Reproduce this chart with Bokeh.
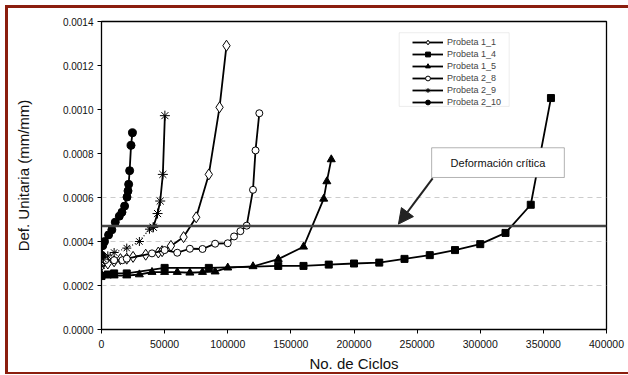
from bokeh.plotting import figure
from bokeh.models import (Span, BoxAnnotation, Label, Arrow, NormalHead, Legend,
                          LegendItem, FixedTicker, NumeralTickFormatter, Range1d)
from bokeh.embed import file_html
from bokeh.resources import INLINE

# ---------------- data ----------------
x_ticks = [0, 50000, 100000, 150000, 200000, 250000, 300000, 350000, 400000]
y_ticks = [0.0, 0.0002, 0.0004, 0.0006, 0.0008, 0.0010, 0.0012, 0.0014]
grid_levels = [0.0002, 0.0004, 0.0006]
critical_strain = 0.00047

p11_x = [0, 5000, 10000, 15000, 20000, 25000, 35000, 45000, 48000, 55000, 65000, 75000, 85000, 93500, 99000]
p11_y = [0.00029, 0.00030, 0.00031, 0.00032, 0.000322, 0.00033, 0.00034, 0.00035, 0.000356, 0.00038,
         0.00042, 0.00051, 0.000705, 0.00101, 0.00129]

p14_x = [0, 5000, 10000, 20000, 50000, 85000, 140000, 160000, 180000, 200000, 220000, 240000,
         260000, 280000, 300000, 320000, 340000, 356000]
p14_y = [0.000243, 0.00025, 0.000255, 0.000255, 0.00028, 0.00028, 0.000289, 0.000289, 0.000295,
         0.0003, 0.000304, 0.000321, 0.000338, 0.000361, 0.000388, 0.000439, 0.000567, 0.001052]

p15_x = [0, 10000, 20000, 30000, 40000, 50000, 60000, 70000, 80000, 90000, 100000, 120000,
         140000, 160000, 176000, 178500, 182000]
p15_y = [0.00025, 0.000245, 0.000245, 0.00025, 0.000261, 0.000261, 0.000261, 0.000258, 0.000261,
         0.000263, 0.000281, 0.000287, 0.00032, 0.000376, 0.000594, 0.000673, 0.000773]

p28_x = [0, 3000, 10000, 16500, 20000, 40000, 50000, 60000, 70000, 80000, 90000, 100000,
         105000, 110000, 115000, 120000, 122000, 125000]
p28_y = [0.00030, 0.000315, 0.000315, 0.000315, 0.000322, 0.000346, 0.000361, 0.000349, 0.000367,
         0.000366, 0.00039, 0.000392, 0.000423, 0.000447, 0.000472, 0.000635, 0.000814, 0.000983]

p29_low_x = [0, 1500, 5000, 10000, 20000, 30000, 38000, 41000]
p29_low_y = [0.00029, 0.00032, 0.000335, 0.00035, 0.00037, 0.0004, 0.000456, 0.000465]
p29_high_x = [41000, 44400, 46500, 48600, 50200]
p29_high_y = [0.000465, 0.000527, 0.000584, 0.000705, 0.000972]

p210_x = [0, 1000, 2400, 5600, 8200, 10900, 14100, 16200, 18300, 20200, 21000, 21500, 22300, 23400, 24500]
p210_y = [0.000338, 0.000381, 0.0004, 0.00043, 0.000453, 0.000488, 0.000515, 0.000533, 0.000561,
          0.000602, 0.00063, 0.00066, 0.000722, 0.000837, 0.000894]

labels = ["Probeta 1_1", "Probeta 1_4", "Probeta 1_5", "Probeta 2_8", "Probeta 2_9", "Probeta 2_10"]

FONT = "Liberation Sans"
MAROON = "#8B1E0E"

p = figure(width=620, height=364, output_backend="svg", toolbar_location=None,
           x_range=Range1d(0, 400000), y_range=Range1d(0, 0.0014),
           min_border_left=93, min_border_right=25, min_border_top=13, min_border_bottom=48)
p.styles = {"margin-left": "5px", "margin-top": "5px", "box-sizing": "content-box",
            "border-left": f"3px solid {MAROON}", "border-top": f"3px solid {MAROON}",
            "border-bottom": f"2px solid {MAROON}"}
p.background_fill_color = "white"
p.border_fill_color = "white"
p.outline_line_color = "black"
p.outline_line_width = 1.3

p.xaxis.ticker = FixedTicker(ticks=x_ticks)
p.yaxis.ticker = FixedTicker(ticks=y_ticks)
p.xaxis.formatter = NumeralTickFormatter(format="0")
p.yaxis.formatter = NumeralTickFormatter(format="0.0000")
for ax in (p.xaxis, p.yaxis):
    ax.minor_tick_line_color = None
    ax.major_tick_out = 4
    ax.major_tick_in = 0
    ax.axis_line_color = "black"
    ax.major_tick_line_color = "black"
    ax.major_label_text_font = FONT
    ax.major_label_text_color = "#111111"
    ax.axis_label_text_font = FONT
    ax.axis_label_text_font_style = "normal"
    ax.axis_label_text_font_size = "15px"
    ax.axis_label_text_color = "#111111"
p.xaxis.major_label_text_font_size = "10.5px"
p.yaxis.major_label_text_font_size = "10px"
p.xaxis.axis_label = "No. de Ciclos"
p.yaxis.axis_label = "Def. Unitaria (mm/mm)"
p.xaxis.major_label_standoff = 6
p.yaxis.major_label_standoff = 4
p.xaxis.axis_label_standoff = 4
p.yaxis.axis_label_standoff = 28

p.xgrid.visible = False
p.ygrid.ticker = FixedTicker(ticks=grid_levels)
p.ygrid.grid_line_color = "#cccccc"
p.ygrid.grid_line_dash = "5 4"

p.add_layout(Span(location=critical_strain, dimension="width", line_color="#444444", line_width=2.5))

LW = 1.8
def series(x, y, marker, size, fill, dash="solid"):
    l = p.line(x, y, line_color="black", line_width=LW, line_dash=dash)
    s = p.scatter(x, y, marker=marker, size=size, fill_color=fill, line_color="black", line_width=1)
    return l, s

r11 = series(p11_x, p11_y, "diamond", 11, "white")
r14 = series(p14_x, p14_y, "square", 7, "black")
r15 = series(p15_x, p15_y, "triangle", 8, "black")
r28 = series(p28_x, p28_y, "circle", 7, "white")
l29a = p.line(p29_low_x, p29_low_y, line_color="black", line_width=1.2, line_dash="1 2")
s29a = p.scatter(p29_low_x, p29_low_y, marker="asterisk", size=9, line_color="black", line_width=1)
r29 = series(p29_high_x, p29_high_y, "asterisk", 10, "black")
r210 = series(p210_x, p210_y, "circle", 8, "black")

# legend frame
p.add_layout(BoxAnnotation(left=235800, right=322900, top=0.001349, bottom=0.001014,
                           fill_color="white", fill_alpha=1, line_color="#c4c4c4", line_width=1))
items = [LegendItem(label=lab, renderers=list(r)) for lab, r in
         zip(labels, [r11, r14, r15, r28, r29, r210])]
legend = Legend(items=items, location=(311, 221), padding=0, spacing=0, margin=0,
                glyph_width=31, glyph_height=12, label_height=12, label_standoff=4,
                label_text_font=FONT, label_text_font_size="9px",
                border_line_alpha=0, background_fill_alpha=0)
p.add_layout(legend)

# callout
p.add_layout(Arrow(end=NormalHead(size=15, fill_color="#222222", line_color="#222222"),
                   x_start=262300, y_start=0.000687, x_end=235200, y_end=0.000479,
                   line_color="#222222", line_width=2))
p.add_layout(BoxAnnotation(left=261500, right=366600, top=0.000826, bottom=0.000691,
                           fill_color="white", fill_alpha=1, line_color="black", line_width=1))
p.add_layout(Label(x=314050, y=0.0007585, text="Deformación crítica", text_align="center",
                   text_baseline="middle", text_font=FONT, text_font_size="11px", text_color="#111111"))

open("out.html", "w").write(file_html(p, INLINE))
